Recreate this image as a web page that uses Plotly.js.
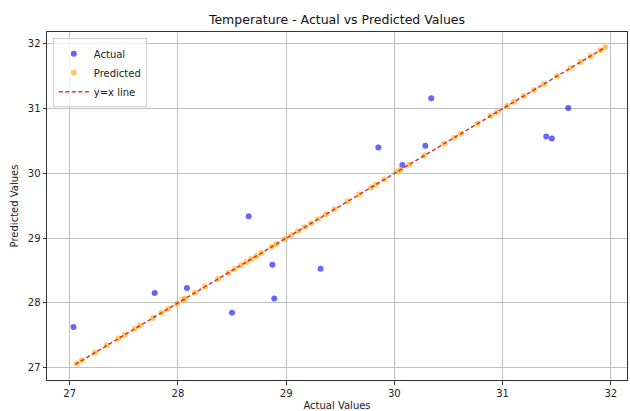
<!DOCTYPE html>
<html>
<head>
<meta charset="utf-8">
<script src="https://cdn.plot.ly/plotly-3.0.1.min.js"></script>
<style>html,body{margin:0;padding:0;background:#fff;}#chart{width:630px;height:411px;}</style>
</head>
<body>
<div id="chart"></div>
<script>
// Actual points (x = actual, y = predicted)
const actualX = [27.035, 27.785, 28.083, 28.50, 28.654, 28.873, 28.89, 29.318, 29.852, 30.074, 30.286, 30.341, 31.404, 31.456, 31.607];
const actualY = [27.63, 28.155, 28.23, 27.85, 29.34, 28.59, 28.07, 28.53, 30.40, 30.13, 30.43, 31.16, 30.57, 30.54, 31.01];

// Predicted points lying on the y=x line
const predictedX = [27.066, 27.112, 27.235, 27.343, 27.45, 27.51, 27.60, 27.65, 27.77, 27.85, 27.91, 27.99, 28.05,
  28.065, 28.157, 28.249, 28.371, 28.464, 28.525, 28.587, 28.633, 28.679, 28.725, 28.77, 28.864, 28.91, 28.986, 29.048,
  29.109, 29.17, 29.232, 29.293, 29.37, 29.447, 29.57, 29.677, 29.785, 29.83, 29.908, 30.03,
  30.06, 30.14, 30.276, 30.46, 30.553, 30.615, 30.768, 30.89, 30.95, 31.044,
  31.106, 31.198, 31.29, 31.382, 31.505, 31.628, 31.72, 31.813, 31.905, 31.95];
const predictedY = predictedX.slice();

// y = x reference line end points
const lineX = [27.05, 31.95];
const lineY = [27.05, 31.95];

const xTicks = [27, 28, 29, 30, 31, 32];
const yTicks = [27, 28, 29, 30, 31, 32];

const font = "DejaVu Sans, Arial, sans-serif";

const traces = [
  {x: actualX, y: actualY, mode: 'markers', type: 'scatter', name: 'Actual',
   marker: {color: 'rgba(0,0,255,0.6)', size: 6, line: {width: 0}}},
  {x: predictedX, y: predictedY, mode: 'markers', type: 'scatter', name: 'Predicted',
   marker: {color: 'rgba(255,165,0,0.6)', size: 6, line: {width: 0}}},
  {x: lineX, y: lineY, mode: 'lines', type: 'scatter', name: 'y=x line',
   line: {color: 'rgba(220,30,30,0.9)', width: 1.5, dash: '4px,2.5px'}}
];

const axisCommon = {
  showgrid: true, gridcolor: '#c0c0c0', gridwidth: 1,
  zeroline: false, showline: true, mirror: true, linecolor: '#333', linewidth: 1,
  ticks: 'outside', ticklen: 3.5, tickcolor: '#333', tickwidth: 1,
  tickfont: {family: font, size: 10, color: '#222'}
};

const layout = {
  width: 630, height: 411,
  margin: {l: 47, r: 3, t: 32, b: 31},
  paper_bgcolor: '#fff', plot_bgcolor: '#fff',
  title: {text: 'Temperature - Actual vs Predicted Values', font: {family: font, size: 12.5, color: '#111'},
          x: 0.5, xref: 'paper', y: 1 - 20/411, yref: 'container', yanchor: 'middle'},
  xaxis: Object.assign({}, axisCommon, {range: [26.79, 32.15], tickvals: xTicks,
          title: {text: 'Actual Values', font: {family: font, size: 10, color: '#222'}, standoff: 4}}),
  yaxis: Object.assign({}, axisCommon, {range: [26.81, 32.185], tickvals: yTicks,
          title: {text: 'Predicted Values', font: {family: font, size: 10, color: '#222'}, standoff: 7}}),
  showlegend: true,
  legend: {x: 0.01, y: 0.982, xanchor: 'left', yanchor: 'top',
           bgcolor: 'rgba(255,255,255,0.8)', bordercolor: '#d0d0d0', borderwidth: 1,
           font: {family: font, size: 10, color: '#222'}, itemwidth: 30, tracegroupgap: 0}
};

Plotly.newPlot('chart', traces, layout, {displayModeBar: false, staticPlot: true});
</script>
</body>
</html>
